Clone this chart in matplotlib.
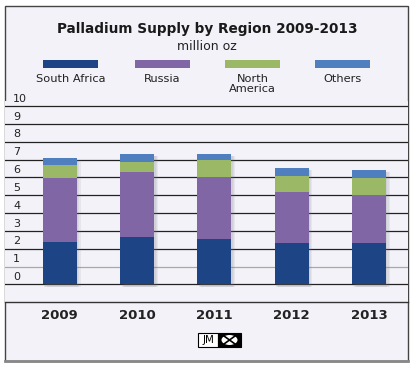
import matplotlib
matplotlib.use("Agg")
import matplotlib.pyplot as plt
from matplotlib.patches import Rectangle, Ellipse
import numpy as np

years = ["2009", "2010", "2011", "2012", "2013"]
series_names = ["South Africa", "Russia", "North\nAmerica", "Others"]
south_africa = [2.36, 2.64, 2.55, 2.30, 2.34]
russia = [3.63, 3.67, 3.46, 2.91, 2.68]
north_america = [0.73, 0.58, 0.94, 0.89, 0.94]
others = [0.36, 0.43, 0.37, 0.40, 0.43]
y_ticks = [0, 1, 2, 3, 4, 5, 6, 7, 8, 9, 10]

colors = ["#1d4586", "#8166a6", "#9bb866", "#4f7fbf"]
bg = "#f3f2f8"

W, H = 416, 369
fig = plt.figure(figsize=(W / 100, H / 100), dpi=100)
fig.patch.set_facecolor("white")

def fx(px):
    return px / W

def fy(py):
    return 1 - py / H

# outer panel
panel = Rectangle((fx(5), fy(361)), fx(408) - fx(5), fy(6) - fy(361),
                  transform=fig.transFigure, facecolor=bg, edgecolor="#444444",
                  linewidth=1.0, zorder=-10)
fig.patches.append(panel)
fig.add_artist(plt.Line2D([fx(5), fx(408)], [fy(361), fy(361)], transform=fig.transFigure,
                          color="#888888", linewidth=2.0))

# axes
ax = fig.add_axes([fx(5), fy(302.3), fx(408) - fx(5), fy(100.7) - fy(302.3)])
ax.set_zorder(1)
ax.set_facecolor(bg)
ax.set_xlim(-0.708, 4.506)
ax.set_ylim(-1, 10.3)
for s in ["top", "right", "left"]:
    ax.spines[s].set_visible(False)
ax.spines["bottom"].set_color("#333333")
ax.spines["bottom"].set_linewidth(1.0)
ax.set_xticks([])
ax.set_yticks([])

for v in y_ticks:
    ax.axhline(v, color="#a8a8a8" if v == 1 else "#222222", linewidth=0.9, zorder=1)
    ax.text(0.02, v + 0.13, str(v), transform=ax.get_yaxis_transform(),
            ha="left", va="bottom", fontsize=8, color="#222222", zorder=2)

x = np.arange(len(years))
width = 0.44
data = [south_africa, russia, north_america, others]
totals = np.sum(data, axis=0)
# soft shadow
for off in [0.05, 0.035, 0.02]:
    ax.bar(x + off, totals + 0.02, width=width, bottom=-0.12,
           color="#7a7a8a", alpha=0.10, linewidth=0, zorder=2)
bottom = np.zeros(len(years))
for vals, c in zip(data, colors):
    ax.bar(x, vals, width=width, bottom=bottom, color=c, linewidth=0, zorder=3)
    bottom += np.array(vals)

for xi, yr in zip(x, years):
    ax.text(xi, -1.75, yr, ha="center", va="center", fontsize=9.5,
            fontweight="bold", color="#222222", clip_on=False)

# title
fig.text(fx(207), fy(29), "Palladium Supply by Region 2009-2013", ha="center", va="center",
         fontsize=9.8, fontweight="bold", color="#1a1a1a")
fig.text(fx(207), fy(47), "million oz", ha="center", va="center", fontsize=9, color="#222222")

# legend
legend_x = [43, 135, 225, 315]
for lx, c, name in zip(legend_x, colors, series_names):
    fig.patches.append(Rectangle((fx(lx), fy(68)), fx(55), fy(60) - fy(68),
                                 transform=fig.transFigure, facecolor=c, edgecolor="none"))
    fig.text(fx(lx + 27.5), fy(74), name, ha="center", va="top", fontsize=8.2,
             color="#222222", linespacing=0.95)

# JM logo
fig.patches.append(Rectangle((fx(198), fy(347)), fx(20), fy(333) - fy(347),
                             transform=fig.transFigure, facecolor="white", edgecolor="black",
                             linewidth=0.8))
fig.patches.append(Rectangle((fx(218), fy(347)), fx(23), fy(333) - fy(347),
                             transform=fig.transFigure, facecolor="black", edgecolor="black",
                             linewidth=0.8))
fig.patches.append(Ellipse((fx(229.5), fy(340)), fx(16), fy(331) - fy(341),
                           transform=fig.transFigure, facecolor="white", edgecolor="none"))
fig.add_artist(plt.Line2D([fx(224), fx(235)], [fy(336), fy(344)], transform=fig.transFigure,
                          color="black", linewidth=1.2))
fig.add_artist(plt.Line2D([fx(224), fx(235)], [fy(344), fy(336)], transform=fig.transFigure,
                          color="black", linewidth=1.2))
fig.text(fx(208), fy(340), "JM", ha="center", va="center", fontsize=7.5, color="black")

fig.savefig("out.png", dpi=100, facecolor="white")
